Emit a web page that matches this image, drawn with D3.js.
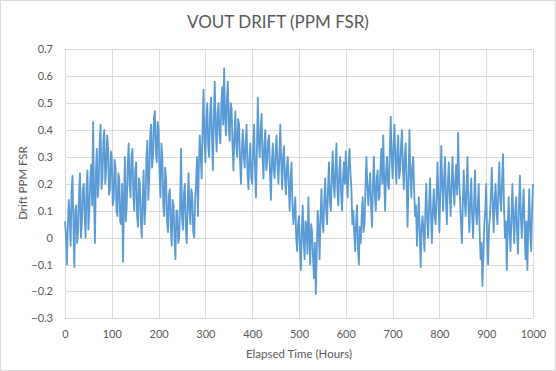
<!DOCTYPE html>
<html>
<head>
<meta charset="utf-8">
<script src="https://cdn.jsdelivr.net/npm/d3@7"></script>
<style>
  html, body { margin: 0; padding: 0; background: #fff; }
  svg { display: block; }
  text { font-family: Lato, "Open Sans", sans-serif; fill: #595959; }
</style>
</head>
<body>
<svg id="chart" width="556" height="371"></svg>
<script>
// ---- data ----
const chartTitle = "VOUT DRIFT (PPM FSR)";
const xTitle = "Elapsed Time (Hours)";
const yTitle = "Drift PPM FSR";
const xTicks = [0, 100, 200, 300, 400, 500, 600, 700, 800, 900, 1000];
const yTicks = [-0.3, -0.2, -0.1, 0, 0.1, 0.2, 0.3, 0.4, 0.5, 0.6, 0.7];
const hourStep = 2; // sample spacing in hours
const drift = [
  0.06, 0.01, -0.1, 0.04, 0.14, 0.08, -0.03, 0.17, 0.23, 0.05, -0.11, 0.1, 0.12, -0.02, 0.02, 0.16, 0.24, 0.0, 0.05, 0.18,
  0.2, 0.08, 0.0, 0.19, 0.25, 0.03, 0.1, 0.22, 0.27, 0.12, 0.43, 0.16, -0.02, 0.24, 0.33, 0.15, 0.2, 0.35, 0.42, 0.18,
  0.22, 0.36, 0.4, 0.2, 0.25, 0.38, 0.34, 0.16, 0.18, 0.32, 0.3, 0.12, 0.14, 0.29, 0.26, 0.1, 0.08, 0.24, 0.22, 0.06,
  0.05, 0.2, -0.09, 0.14, 0.3, 0.06, 0.12, 0.27, 0.35, 0.2, 0.15, 0.3, 0.33, 0.16, 0.1, 0.25, 0.28, 0.08, 0.04, 0.22,
  0.2, 0.06, 0.0, 0.15, 0.25, 0.05, 0.12, 0.3, 0.36, 0.14, 0.22, 0.38, 0.42, 0.26, 0.3, 0.44, 0.47, 0.32, 0.28, 0.43,
  0.4, 0.24, 0.15, 0.35, 0.3, 0.12, 0.08, 0.26, 0.22, 0.06, 0.02, 0.16, 0.18, 0.04, -0.03, 0.14, 0.12, 0.0, -0.08, 0.1,
  0.1, -0.02, 0.0, 0.12, 0.33, 0.08, 0.03, 0.16, 0.2, 0.04, -0.02, 0.12, 0.24, 0.1, 0.05, 0.18, 0.15, 0.02, 0.0, 0.14,
  0.2, 0.3, 0.08, 0.26, 0.38, 0.3, 0.22, 0.42, 0.55, 0.36, 0.28, 0.44, 0.5, 0.34, 0.3, 0.46, 0.52, 0.38, 0.25, 0.45,
  0.58, 0.4, 0.32, 0.46, 0.5, 0.38, 0.35, 0.5, 0.56, 0.42, 0.63, 0.45, 0.38, 0.52, 0.58, 0.4, 0.36, 0.5, 0.48, 0.34,
  0.25, 0.38, 0.47, 0.34, 0.3, 0.44, 0.42, 0.28, 0.2, 0.33, 0.4, 0.3, 0.26, 0.36, 0.42, 0.24, 0.18, 0.3, 0.35, 0.22,
  0.2, 0.33, 0.42, 0.26, 0.15, 0.32, 0.52, 0.36, 0.3, 0.4, 0.46, 0.3, 0.22, 0.35, 0.4, 0.25, 0.28, 0.36, 0.38, 0.24,
  0.14, 0.28, 0.35, 0.25, 0.22, 0.32, 0.38, 0.27, 0.2, 0.3, 0.42, 0.28, 0.18, 0.3, 0.34, 0.22, 0.16, 0.26, 0.3, 0.2,
  0.1, 0.22, 0.28, 0.12, 0.05, 0.1, 0.15, 0.0, -0.05, 0.05, 0.08, -0.04, -0.12, 0.03, 0.12, -0.02, -0.08, 0.06, 0.05, -0.06,
  0.15, 0.0, -0.1, 0.05, 0.02, -0.08, -0.15, -0.02, -0.21, -0.05, 0.1, 0.04, -0.08, 0.08, 0.18, 0.06, 0.02, 0.14, 0.22, 0.1,
  0.05, 0.18, 0.28, 0.14, 0.1, 0.22, 0.32, 0.2, 0.15, 0.26, 0.35, 0.18, 0.12, 0.24, 0.3, 0.16, 0.1, 0.22, 0.28, 0.2,
  0.32, 0.22, 0.15, 0.28, 0.33, 0.24, 0.18, 0.05, 0.1, 0.02, -0.05, 0.06, 0.12, -0.04, -0.1, 0.04, -0.02, 0.08, 0.15, 0.02,
  0.05, 0.18, 0.3, 0.2, 0.12, 0.18, 0.24, 0.12, 0.04, 0.2, 0.3, 0.16, 0.1, 0.22, 0.25, 0.14, 0.15, 0.26, 0.33, 0.2,
  0.38, 0.22, 0.1, 0.24, 0.3, 0.2, 0.18, 0.32, 0.45, 0.3, 0.22, 0.34, 0.42, 0.28, 0.2, 0.32, 0.38, 0.22, 0.25, 0.34,
  0.4, 0.26, 0.18, 0.3, 0.35, 0.2, 0.04, 0.22, 0.4, 0.24, 0.15, 0.26, 0.3, 0.18, 0.08, 0.12, -0.03, 0.06, 0.15, 0.02,
  -0.11, 0.04, 0.08, 0.02, -0.05, 0.1, 0.2, 0.06, 0.0, 0.12, 0.22, 0.08, -0.02, 0.1, 0.18, 0.08, 0.05, 0.16, 0.28, 0.14,
  0.02, 0.18, 0.34, 0.2, 0.1, 0.22, 0.3, 0.14, 0.05, 0.2, 0.28, 0.16, 0.08, 0.2, 0.3, 0.18, 0.12, 0.22, 0.27, 0.16,
  0.39, 0.22, 0.15, 0.06, -0.02, 0.12, 0.25, 0.14, 0.08, 0.18, 0.3, 0.12, 0.02, 0.14, 0.22, 0.08, 0.0, 0.12, 0.25, 0.1,
  0.05, 0.12, 0.2, 0.02, -0.08, -0.02, -0.18, -0.06, 0.05, 0.1, 0.2, 0.0, -0.1, 0.04, 0.08, 0.16, 0.26, 0.12, 0.02, 0.14,
  0.2, 0.1, 0.05, 0.18, 0.28, 0.14, 0.1, 0.22, 0.31, 0.12, 0.0, 0.06, -0.12, 0.04, 0.15, 0.02, -0.05, 0.08, 0.2, 0.06,
  -0.02, 0.1, 0.15, 0.02, -0.06, 0.12, 0.23, 0.08, 0.0, 0.1, 0.18, 0.04, -0.08, 0.06, -0.12, 0.05, 0.18, 0.02, -0.05, 0.1, 0.2
];

// ---- layout ----
const W = 556, H = 371;
const margin = { left: 65, right: 23, top: 49.3, bottom: 52.7 };
const svg = d3.select("#chart");

svg.append("rect").attr("x", 0.5).attr("y", 0.5).attr("width", W - 1).attr("height", H - 1)
  .attr("fill", "#fff").attr("stroke", "#d9d9d9");

const x = d3.scaleLinear().domain([0, 1000]).range([margin.left, W - margin.right]);
const y = d3.scaleLinear().domain([-0.3, 0.7]).range([H - margin.bottom, margin.top]);

// gridlines
const grid = svg.append("g").attr("stroke", "#d9d9d9").attr("stroke-width", 1);
grid.selectAll("line.h").data(yTicks).join("line")
  .attr("x1", x(0)).attr("x2", x(1000))
  .attr("y1", d => Math.round(y(d)) + 0.5).attr("y2", d => Math.round(y(d)) + 0.5);
grid.selectAll("line.v").data(xTicks).join("line")
  .attr("y1", y(-0.3)).attr("y2", y(0.7))
  .attr("x1", d => Math.round(x(d)) + 0.5).attr("x2", d => Math.round(x(d)) + 0.5);

// axes (labels only)
const xAxis = svg.append("g").attr("transform", `translate(0,${y(-0.3)})`)
  .call(d3.axisBottom(x).tickValues(xTicks).tickSize(0).tickPadding(12).tickFormat(d3.format("d")));
const yAxis = svg.append("g").attr("transform", `translate(${x(0)},0)`)
  .call(d3.axisLeft(y).tickValues(yTicks).tickSize(0).tickPadding(12).tickFormat(d => d === 0 ? "0" : d3.format(".1f")(d)));
[xAxis, yAxis].forEach(g => {
  g.select(".domain").remove();
  g.selectAll("text").style("font-family", "Lato, sans-serif").style("font-size", "11px").attr("fill", "#595959");
});

// line
const line = d3.line().x((d, i) => x(i * hourStep)).y(d => y(d));
svg.append("path").datum(drift)
  .attr("fill", "none").attr("stroke", "#5b9bd5").attr("stroke-width", 1.8)
  .attr("stroke-linejoin", "round").attr("d", line);

// titles
svg.append("text").attr("x", 278).attr("y", 28).attr("text-anchor", "middle")
  .style("font-size", "17px").text(chartTitle);
svg.append("text").attr("x", 299).attr("y", 358).attr("text-anchor", "middle")
  .style("font-size", "11.5px").text(xTitle);
svg.append("text").attr("transform", "translate(27,183) rotate(-90)").attr("text-anchor", "middle")
  .style("font-size", "11.5px").text(yTitle);
</script>
</body>
</html>
